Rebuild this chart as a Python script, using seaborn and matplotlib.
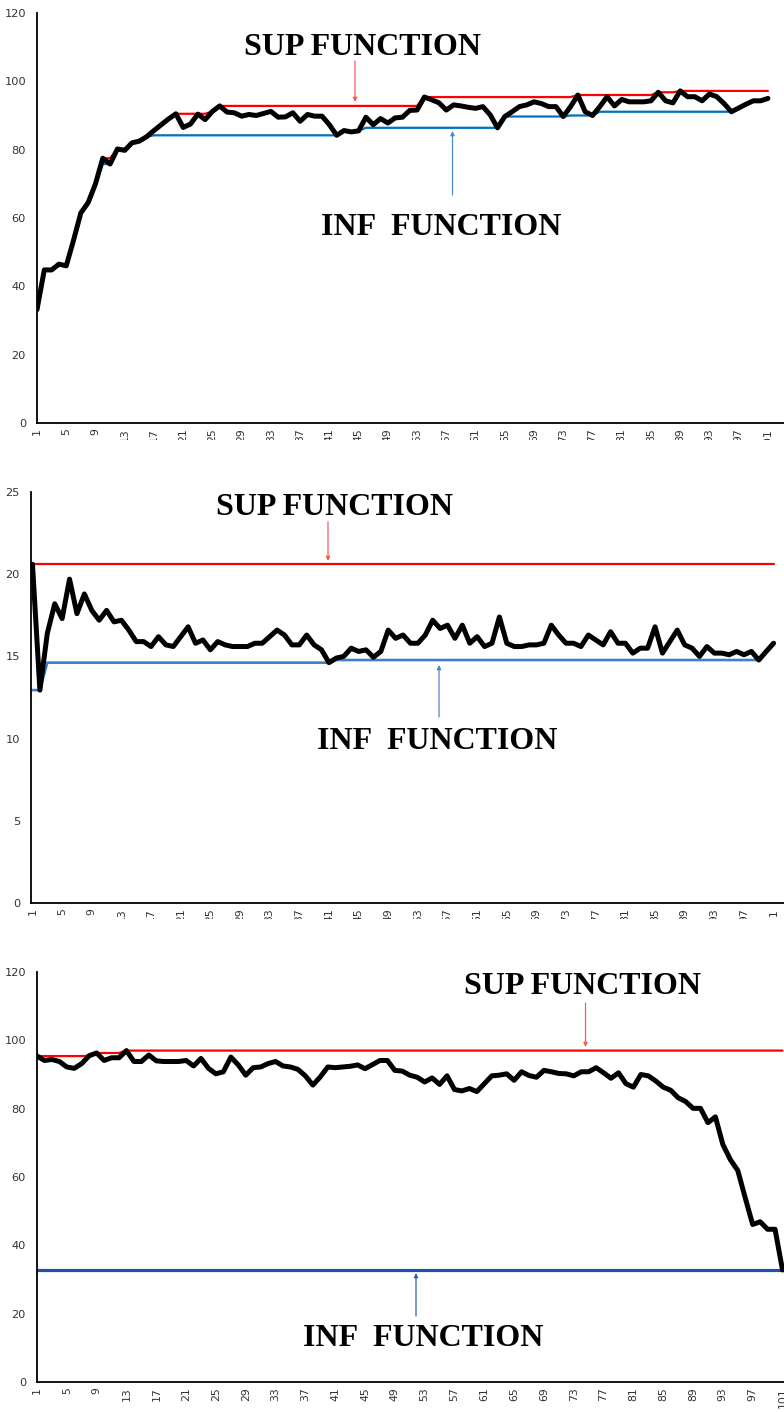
import numpy as np
import matplotlib
matplotlib.use("Agg")
import matplotlib.pyplot as plt
import seaborn as sns
from matplotlib.ticker import FixedLocator, FixedFormatter
from matplotlib.transforms import Bbox, TransformedBbox

# ---------------------------------------------------------------- data
iterations = list(range(1, 102))

fitness_a = [
    33.2, 44.8, 44.8, 46.5, 46.0, 53.5, 61.5, 64.5, 70.0, 77.5,
    75.8, 80.2, 79.8, 82.0, 82.5, 83.8, 85.6, 87.3, 89.0, 90.5,
    86.5, 87.5, 90.4, 88.8, 91.2, 92.8, 91.0, 90.8, 89.8, 90.3,
    90.0, 90.6, 91.2, 89.5, 89.6, 90.8, 88.3, 90.3, 89.8, 89.8,
    87.3, 84.2, 85.6, 85.2, 85.5, 89.5, 87.3, 89.1, 87.8, 89.3,
    89.5, 91.5, 91.6, 95.4, 94.6, 93.7, 91.6, 93.1, 92.8, 92.4,
    92.1, 92.6, 90.2, 86.4, 89.7, 91.1, 92.6, 93.1, 94.0, 93.5,
    92.6, 92.6, 89.7, 92.6, 96.0, 91.1, 90.0, 92.6, 95.5, 92.8,
    94.7, 94.0, 94.0, 94.0, 94.3, 96.8, 94.3, 93.7, 97.2, 95.5,
    95.5, 94.3, 96.3, 95.5, 93.5, 91.1, 92.2, 93.3, 94.3, 94.3,
    95.0,
]

fitness_b = [
    20.6, 12.95, 16.4, 18.2, 17.3, 19.7, 17.6, 18.8, 17.8, 17.2,
    17.8, 17.1, 17.2, 16.6, 15.9, 15.9, 15.6, 16.2, 15.7, 15.6,
    16.2, 16.8, 15.8, 16.0, 15.4, 15.9, 15.7, 15.6, 15.6, 15.6,
    15.8, 15.8, 16.2, 16.6, 16.3, 15.7, 15.7, 16.3, 15.7, 15.4,
    14.62, 14.9, 15.0, 15.5, 15.3, 15.4, 14.95, 15.3, 16.6, 16.1,
    16.3, 15.8, 15.8, 16.3, 17.2, 16.7, 16.9, 16.1, 16.9, 15.8,
    16.2, 15.6, 15.8, 17.4, 15.8, 15.6, 15.6, 15.7, 15.7, 15.8,
    16.9, 16.3, 15.8, 15.8, 15.6, 16.3, 16.0, 15.7, 16.5, 15.8,
    15.8, 15.2, 15.5, 15.5, 16.8, 15.2, 15.9, 16.6, 15.7, 15.5,
    15.0, 15.6, 15.2, 15.2, 15.1, 15.3, 15.1, 15.3, 14.78, 15.3,
    15.8,
]

fitness_c = [
    95.4, 94.1, 94.4, 93.8, 92.2, 91.8, 93.2, 95.5, 96.3, 94.1,
    94.9, 94.9, 97.0, 93.8, 93.8, 95.7, 94.0, 93.8, 93.8, 93.8,
    94.1, 92.5, 94.7, 91.8, 90.2, 90.8, 95.1, 92.8, 89.8, 92.0,
    92.2, 93.2, 93.8, 92.5, 92.2, 91.5, 89.6, 86.9, 89.3, 92.2,
    92.0, 92.2, 92.4, 92.8, 91.7, 92.9, 94.1, 94.1, 91.2, 91.0,
    89.8, 89.2, 87.8, 89.0, 87.1, 89.6, 85.6, 85.2, 85.9, 85.0,
    87.3, 89.6, 89.8, 90.2, 88.3, 90.8, 89.7, 89.2, 91.2, 90.8,
    90.3, 90.2, 89.6, 90.8, 90.8, 92.0, 90.5, 88.9, 90.5, 87.3,
    86.3, 90.0, 89.6, 88.1, 86.3, 85.4, 83.2, 82.1, 80.1, 80.1,
    75.9, 77.6, 69.5, 65.1, 61.9, 53.9, 46.1, 46.9, 44.7, 44.7,
    32.8,
]

y_ticks_a = [0, 20, 40, 60, 80, 100, 120]
y_ticks_b = [0, 5, 10, 15, 20, 25]
y_ticks_c = [0, 20, 40, 60, 80, 100, 120]

sup_label = "SUP FUNCTION"
inf_label = "INF  FUNCTION"

# ---------------------------------------------------------------- style
W, H = 784, 1412
sns.set_style("white")
plt.rcParams["font.family"] = ["DejaVu Sans"]

fig = plt.figure(figsize=(W / 100, H / 100), dpi=100)


def frac(x, y):
    """pixel position measured from the top-left corner -> figure fraction"""
    return x / W, 1 - y / H


def draw_panel(values, y_ticks, left, top, bottom, xlim, inf_color, inf_lw, clip_y=None):
    ax = fig.add_axes([left / W, 1 - bottom / H, (W - left) / W, (bottom - top) / H])
    vals = np.asarray(values, dtype=float)
    upper = np.maximum.accumulate(vals)               # running supremum
    lower = np.minimum.accumulate(vals[::-1])[::-1]   # infimum of the remaining run

    sns.lineplot(x=iterations, y=upper, ax=ax, color="#ff0000", lw=1.6, zorder=2)
    sns.lineplot(x=iterations, y=lower, ax=ax, color=inf_color, lw=inf_lw, zorder=2)
    sns.lineplot(x=iterations, y=vals, ax=ax, color="black", lw=3.6, zorder=3,
                 solid_joinstyle="round", solid_capstyle="round")

    ax.set_xlim(*xlim)
    ax.set_ylim(y_ticks[0], y_ticks[-1])
    ax.set_xlabel("")
    ax.set_ylabel("")
    ax.set_yticks(y_ticks)
    ax.set_yticklabels([str(t) for t in y_ticks])

    positions = list(range(1, int(xlim[1]) + 1))
    ax.xaxis.set_major_locator(FixedLocator(positions))
    ax.xaxis.set_major_formatter(
        FixedFormatter([str(p) if (p - 1) % 4 == 0 else "" for p in positions]))

    ax.tick_params(axis="x", direction="in", length=2.4, width=0.7, pad=3.5,
                   labelrotation=90, labelsize=7.8, labelcolor="#333333", color="#444444")
    ax.tick_params(axis="y", direction="out", length=2.4, width=0.8, pad=5.5,
                   labelsize=8.2, labelcolor="#333333", color="#444444")

    for side in ("top", "right"):
        ax.spines[side].set_visible(False)
    for side in ("left", "bottom"):
        ax.spines[side].set_color("black")
        ax.spines[side].set_linewidth(1.3)
    ax.grid(False)

    if clip_y is not None:
        box = TransformedBbox(Bbox.from_extents(0, 1 - clip_y / H, 1, 1), fig.transFigure)
        for lab in ax.get_xticklabels():
            lab.set_clip_on(True)
            lab.set_clip_box(box)
    return ax


def caption(text, x, y_base):
    fig.text(*frac(x, y_base), text, ha="center", va="baseline", fontsize=23,
             fontweight="bold", family=["Liberation Serif", "DejaVu Serif"], color="black")


def pointer(ax, x, y_from, y_to, color):
    ax.annotate("", xy=frac(x, y_to), xycoords="figure fraction",
                xytext=frac(x, y_from), textcoords="figure fraction",
                annotation_clip=False,
                arrowprops=dict(arrowstyle="-|>", color=color, lw=0.9,
                                mutation_scale=6, shrinkA=0, shrinkB=0))


# ---------------------------------------------------------------- panels
ax1 = draw_panel(fitness_a, y_ticks_a, 37, 13, 423, (1, 103.2), "#0070c0", 1.6, clip_y=440)
caption(sup_label, 363, 55)
caption(inf_label, 441, 235)
pointer(ax1, 355, 61, 102, "#ff5a5a")
pointer(ax1, 452.5, 195, 131, "#4a8ad0")

ax2 = draw_panel(fitness_b, y_ticks_b, 31, 492, 903, (0.8, 102.4), "#3f7fc8", 1.9, clip_y=919)
caption(sup_label, 334, 515)
caption(inf_label, 437, 749)
pointer(ax2, 328, 522, 561, "#ff5a5a")
pointer(ax2, 439, 717, 665, "#4a86c8")

ax3 = draw_panel(fitness_c, y_ticks_c, 37, 972, 1382, (1, 101.2), "#1f4faa", 2.3)
caption(sup_label, 583, 994)
caption(inf_label, 423, 1346)
pointer(ax3, 585.5, 1003, 1047, "#ff5a5a")
pointer(ax3, 416, 1316, 1273, "#2f5fb8")

fig.savefig("out.png", dpi=100)
